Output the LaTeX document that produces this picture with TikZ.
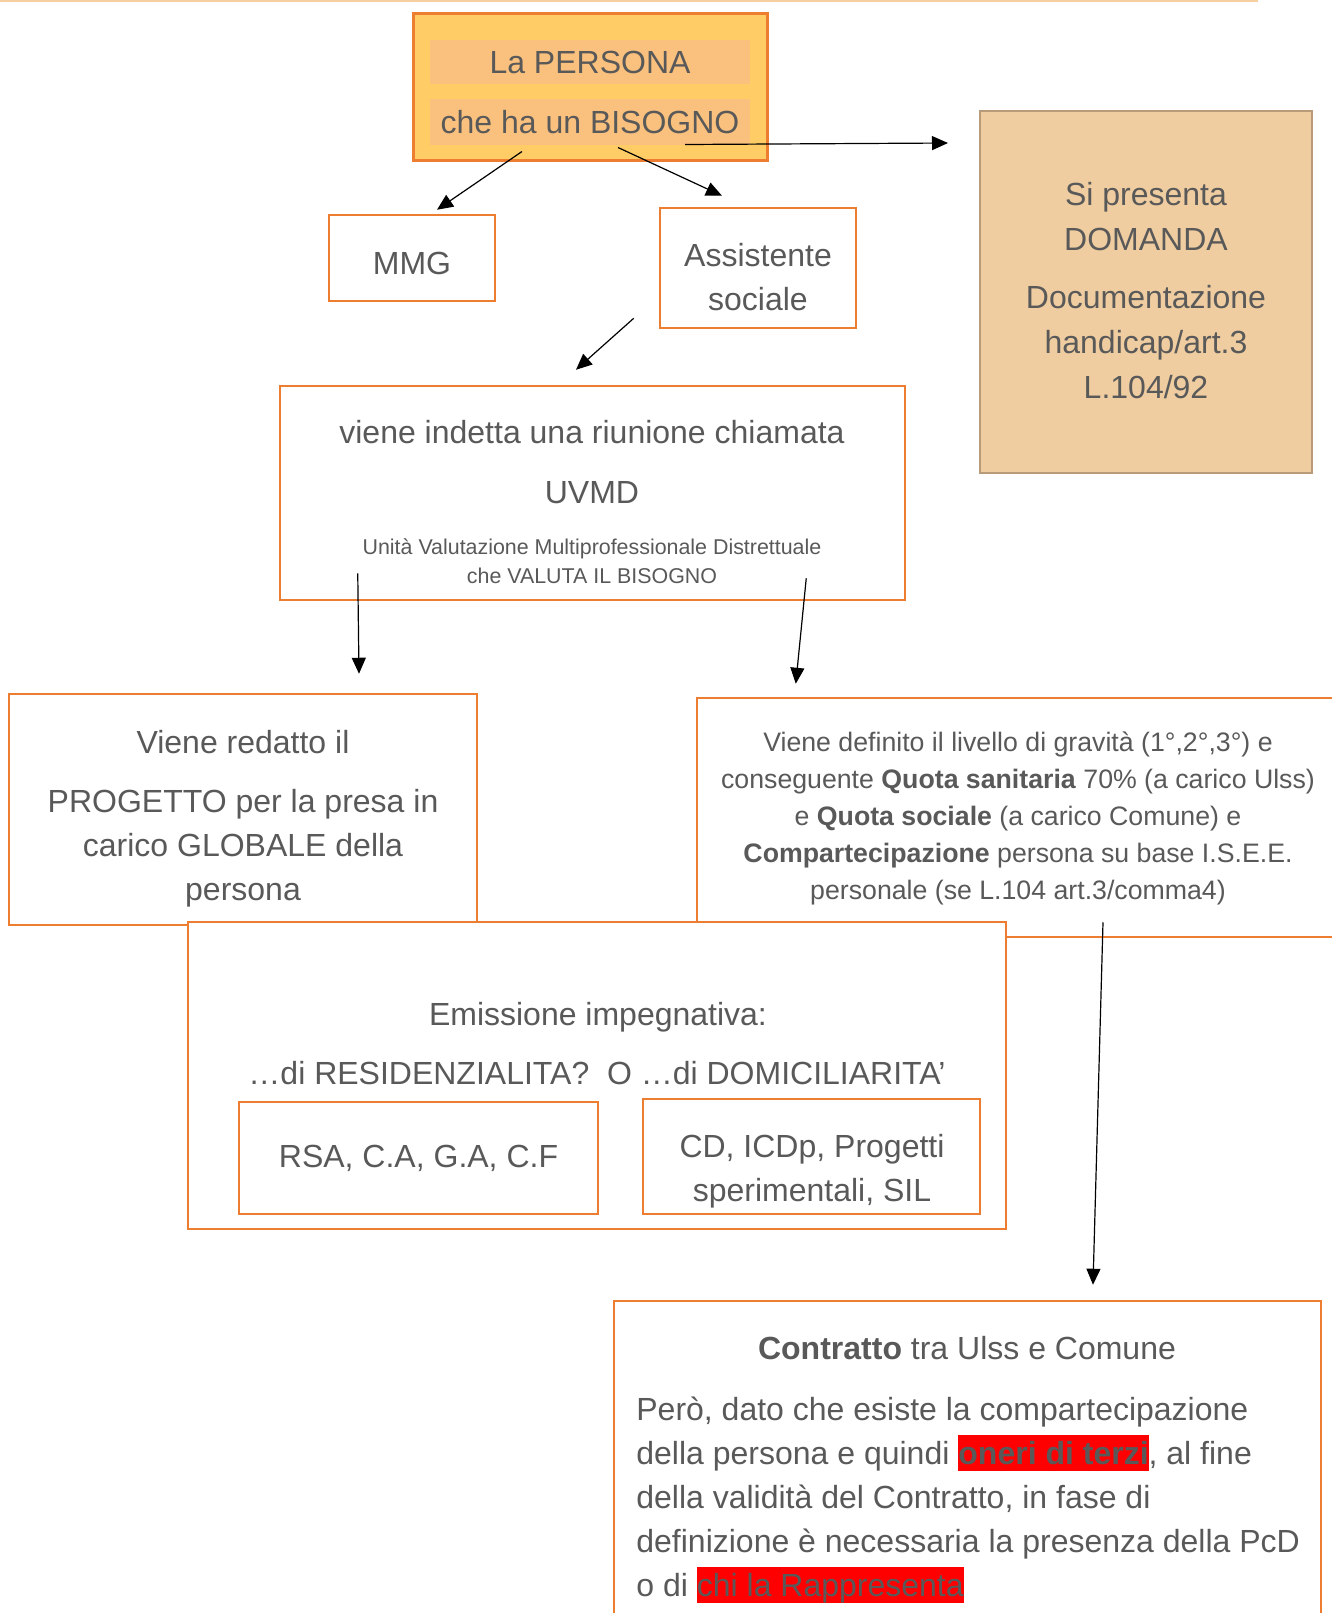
\documentclass[tikz,border=0pt]{standalone}
\usepackage{fontspec}
\setmainfont{Liberation Sans}
\usetikzlibrary{arrows.meta,positioning}
\usepackage{xcolor}

\definecolor{orangeline}{HTML}{ED7D31}
\definecolor{persfill}{HTML}{FFCC66}
\definecolor{bandfill}{HTML}{FAC17E}
\definecolor{domfill}{HTML}{EFCDA0}
\definecolor{domline}{HTML}{B89B78}
\definecolor{txtgray}{HTML}{595959}
\definecolor{topline}{HTML}{F5CFA0}
\definecolor{hlred}{HTML}{FF0000}

\newcommand{\fmain}{\fontsize{16}{22}\selectfont}
\newcommand{\fmid}{\fontsize{13.35}{18.5}\selectfont}
\newcommand{\fsmall}{\fontsize{10.7}{14.5}\selectfont}
\newcommand{\hlbox}[1]{{\setlength{\fboxsep}{0pt}\colorbox{hlred}{\rule[-0.21em]{0pt}{1.14em}#1}}}

\begin{document}
\begin{tikzpicture}[x=0.5pt,y=-0.5pt,>={Triangle[length=8pt,width=7pt]},
  every node/.style={text=txtgray,font=\fmain,inner sep=0pt},
  obox/.style={draw=orangeline,line width=1.25pt,fill=white},
  link/.style={->,line width=0.6pt}]
\useasboundingbox (0,0) rectangle (1332,1613);
\draw[topline,line width=1.2pt] (0,1) -- (1258,1);

% la persona
\node[draw=orangeline,line width=1.5pt,fill=persfill,minimum width=177pt,minimum height=73.5pt] (persona) at (590,86.5) {};
\node[fill=bandfill,minimum width=160pt,minimum height=22pt] (band1) at (590,62) {La PERSONA};
\node[fill=bandfill,minimum width=160pt,minimum height=23pt] (band2) at (590,122) {che ha un BISOGNO};

% domanda
\node[draw=domline,line width=1.25pt,fill=domfill,minimum width=166pt,minimum height=181pt] (dom) at (1146,292) {};
\node[align=center,font=\fontsize{16}{22.5}\selectfont] (domtxt) at (1146,291)
  {Si presenta\\DOMANDA\\[6.5pt]Documentazione\\handicap/art.3\\L.104/92};

% MMG e assistente sociale
\node[obox,minimum width=83pt,minimum height=43pt] (mmg) at (412,258) {};
\node (mmgtxt) at (412,263) {MMG};
\node[obox,minimum width=98pt,minimum height=60pt] (assist) at (758,268) {};
\node[align=center] (assisttxt) at (758,277.5) {Assistente\\sociale};

% UVMD
\node[obox,minimum width=312.5pt,minimum height=107pt] (uvmd) at (592.5,493) {};
\node (uvmd1) at (592,432.5) {viene indetta una riunione chiamata};
\node (uvmd2) at (592,493) {UVMD};
\node[align=center,font=\fsmall] (uvmd3) at (592,561)
  {Unità Valutazione Multiprofessionale Distrettuale\\che VALUTA IL BISOGNO};

% progetto e gravita
\node[obox,minimum width=234pt,minimum height=115.5pt] (prog) at (243,809.5) {};
\node[align=center] (progtxt) at (243,818.5)
  {Viene redatto il\\[7.5pt]PROGETTO per la presa in\\carico GLOBALE della\\persona};
\node[obox,minimum width=324pt,minimum height=119.5pt] (grav) at (1021,817.5) {};
\node[align=center,font=\fmid] (gravtxt) at (1018,818.5)
  {Viene definito il livello di gravità (1°,2°,3°) e\\
   conseguente \textbf{Quota sanitaria} 70\% (a carico Ulss)\\
   e \textbf{Quota sociale} (a carico Comune) e\\
   \textbf{Compartecipazione} persona su base I.S.E.E.\\
   personale (se L.104 art.3/comma4)};

% impegnativa
\node[obox,minimum width=409pt,minimum height=153.5pt] (emis) at (597,1075.5) {};
\node (emis1) at (598,1017) {Emissione impegnativa:};
\node (emis2) at (597,1073.5) {…di RESIDENZIALITA?\ \ O …di DOMICILIARITA’};
\node[obox,minimum width=179.5pt,minimum height=56pt] (rsa) at (418.5,1158) {RSA, C.A, G.A, C.F};
\node[obox,minimum width=168.5pt,minimum height=57.5pt] (cd) at (811.5,1156.5) {};
\node[align=center] (cdtxt) at (812,1171) {CD, ICDp, Progetti\\sperimentali, SIL};

% contratto
\node[obox,minimum width=353.5pt,minimum height=174.5pt] (contr) at (967.5,1475.5) {};
\node (contr1) at (967,1348) {\textbf{Contratto} tra Ulss e Comune};
\node[align=left,anchor=west] (contr2) at (636,1500)
  {Però, dato che esiste la compartecipazione\\
   della persona e quindi \hlbox{\textbf{oneri di terzi}}, al fine\\
   della validità del Contratto, in fase di\\
   definizione è necessaria la presenza della PcD\\
   o di \hlbox{chi la Rappresenta}};

% frecce
\coordinate (domin) at (948,143);
\draw[link] ([shift={(95,-17)}]persona.south) -- (domin);
\draw[link] ([shift={(-68,-10)}]persona.south) -- ([shift={(25,-4)}]mmg.north);
\draw[link] ([shift={(28,-14)}]persona.south) -- ([shift={(-36,-11)}]assist.north);
\draw[link] ([shift={(-25,-11)}]assist.south west) -- ([shift={(-16.5,-15)}]uvmd.north);
\draw[link] ([shift={(79,-28)}]uvmd.south west) -- ([shift={(116,-19)}]prog.north);
\draw[link] ([shift={(-100,-23)}]uvmd.south east) -- ([shift={(100,-13)}]grav.north west);
\draw[link] ([shift={(82,-16)}]grav.south) -- ([shift={(125.5,-15)}]contr.north);
\end{tikzpicture}
\end{document}
